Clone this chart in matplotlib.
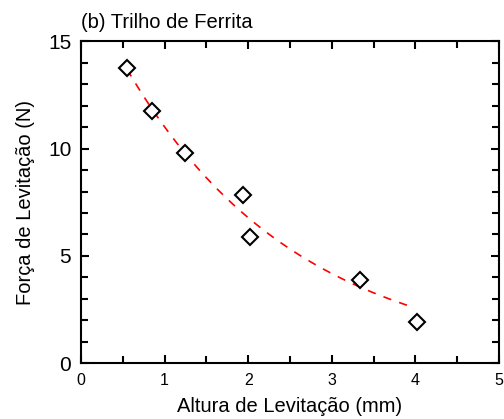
import numpy as np
import matplotlib.pyplot as plt
from matplotlib.ticker import MultipleLocator

# measured points
altura = [0.55, 0.855, 1.245, 1.935, 2.02, 3.34, 4.02]
forca = [13.77, 11.76, 9.79, 7.84, 5.87, 3.87, 1.93]

# exponential fit: F = A*exp(-h/t)
fit_A = 17.9
fit_t = 2.06
fit_range = (0.55, 3.97)

plt.rcParams['font.family'] = ['Liberation Sans', 'DejaVu Sans']

fig = plt.figure(figsize=(5.04, 4.19), dpi=100)
ax = fig.add_axes([81 / 504, 1 - 363 / 419, 418 / 504, 321.5 / 419])

h = np.linspace(fit_range[0], fit_range[1], 200)
ax.plot(h, fit_A * np.exp(-h / fit_t), color='red', linestyle=(0, (5, 5)), linewidth=1.2)
ax.plot(altura, forca, linestyle='none', marker='D', markersize=8.5,
        markerfacecolor='white', markeredgecolor='black', markeredgewidth=1.5)

ax.set_xlim(0, 5)
ax.set_ylim(0, 15)
ax.xaxis.set_major_locator(MultipleLocator(1))
ax.xaxis.set_minor_locator(MultipleLocator(0.5))
ax.yaxis.set_major_locator(MultipleLocator(5))
ax.yaxis.set_minor_locator(MultipleLocator(1))
ax.tick_params(which='both', direction='in', top=True, right=True, width=1.5)
ax.tick_params(which='major', length=6)
ax.tick_params(which='minor', length=5)
ax.tick_params(axis='x', labelsize=11.5, pad=7)
ax.tick_params(axis='y', labelsize=15, pad=7)
for s in ax.spines.values():
    s.set_linewidth(1.5)

ax.set_xlabel("Altura de Levitação (mm)", fontsize=14.5, labelpad=7)
ax.set_ylabel("Força de Levitação (N)", fontsize=14.5, labelpad=9)
ax.set_title("(b) Trilho de Ferrita", loc='left', fontsize=14.5, pad=10)

fig.savefig('out.png', dpi=100)
